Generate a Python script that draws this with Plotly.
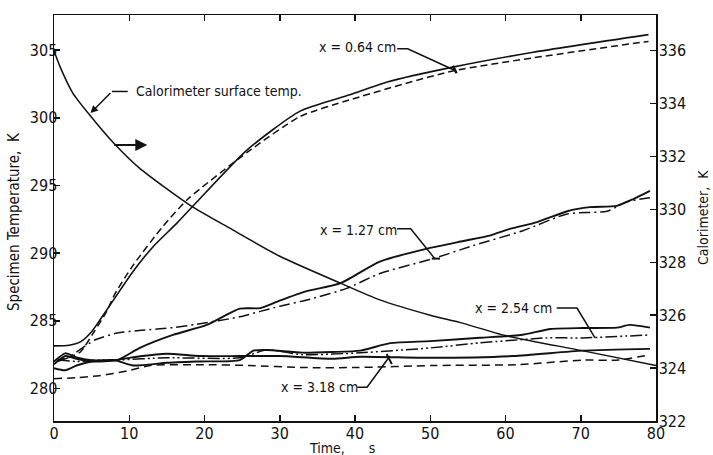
import plotly.graph_objects as go

FONT = "DejaVu Sans Condensed, Liberation Sans Narrow, Arial Narrow, sans-serif"

# ---------------- data ----------------
x_ticks = [0, 10, 20, 30, 40, 50, 60, 70, 80]
y_left_ticks = [280, 285, 290, 295, 300, 305]
y_right_ticks = [322, 324, 326, 328, 330, 332, 334, 336]

# Calorimeter surface temperature (right axis, K)
cal_t = [0, 0.8, 2.5, 4.8, 7.8, 11.4, 18.1, 23.4, 30, 38, 43.3, 50, 54, 60, 70, 80]
cal_T = [336.0, 335.4, 334.4, 333.55, 332.55, 331.55, 330.15, 329.28, 328.23,
         327.22, 326.58, 326.0, 325.72, 325.23, 324.67, 324.1]

# x = 0.64 cm
x064_t_a = [0, 2, 3.5, 5, 6.1, 8.1, 10.5, 13.2, 16.3, 19, 25.6, 32.7, 39.3, 44.3, 53, 63.7, 79]
x064_T_a = [283.15, 283.2, 283.45, 284.2, 285.06, 286.7, 288.65, 290.5, 292.2, 293.8,
            297.6, 300.5, 301.7, 302.65, 303.75, 304.85, 306.15]
x064_t_b = [0.5, 2, 3.5, 5.4, 7, 8.1, 10.5, 14.5, 17.8, 25.8, 32.7, 39.3, 53, 79]
x064_T_b = [282.1, 282.3, 282.7, 284.25, 285.7, 287.0, 289.1, 292.0, 294.0, 297.5,
            300.1, 301.33, 303.46, 305.65]

# x = 1.27 cm
x127_t_a = [0, 1.5, 3, 5, 8.4, 11.4, 15.8, 20.3, 24.7, 27.4, 30, 33.6, 38, 43.3, 49.6,
            54.4, 57.9, 60.6, 64.2, 68.2, 71.2, 74.8, 77, 79.2]
x127_T_a = [281.8, 282.4, 282.2, 282.0, 282.1, 283.0, 283.96, 284.7, 285.9, 285.94, 286.5,
            287.2, 287.77, 289.38, 290.34, 290.9, 291.3, 291.8, 292.3, 293.1, 293.4,
            293.5, 294.0, 294.6]
x127_t_b = [0.5, 2, 3.5, 5.5, 8.4, 11.6, 15.8, 19, 24.7, 27.4, 30, 34, 38.9, 43.3, 50.4,
            55.7, 62.3, 68.2, 73.5, 76.1, 79.2]
x127_T_b = [282.0, 282.3, 282.9, 283.6, 284.1, 284.3, 284.5, 284.75, 285.3, 285.7, 286.08,
            286.6, 287.4, 288.5, 289.6, 290.56, 291.66, 292.9, 293.1, 293.8, 294.1]

# x = 2.54 cm
x254_t_a = [0, 1.5, 3, 5, 8, 10.5, 15, 19.4, 24.7, 26.5, 28.3, 33, 37, 40.7, 44.7, 50,
            56.6, 62, 66, 70.3, 74.8, 76.5, 79.2]
x254_T_a = [281.5, 281.35, 281.7, 282.0, 282.1, 281.7, 281.9, 282.0, 282.1, 282.8, 282.85,
            282.65, 282.7, 282.8, 283.35, 283.5, 283.75, 283.95, 284.4, 284.47, 284.5,
            284.7, 284.5]
x254_t_b = [0.5, 3, 6, 8, 15, 24.7, 28.3, 33, 40.7, 50, 56.6, 65.5, 70.3, 79.2]
x254_T_b = [282.1, 282.0, 282.1, 282.1, 282.27, 282.27, 282.86, 282.5, 282.64, 283.0,
            283.37, 283.74, 283.74, 283.96]

# x = 3.18 cm
x318_t_a = [0, 1.5, 3, 5, 8, 11, 15, 19.4, 24.7, 30, 37, 40.7, 50, 61, 70.3, 79.2]
x318_T_a = [282.0, 282.6, 282.3, 282.1, 282.1, 282.35, 282.57, 282.4, 282.4, 282.4, 282.2,
            282.35, 282.27, 282.4, 282.8, 282.93]
x318_t_b = [0, 3, 6, 9.7, 12.8, 19.4, 26, 33, 40, 50.4, 61.5, 70.3, 75, 79.2]
x318_T_b = [280.73, 280.8, 280.95, 281.3, 281.7, 281.76, 281.7, 281.55, 281.55, 281.7,
            281.76, 282.1, 282.1, 282.5]

INK = "#111111"

fig = go.Figure()


def add(t, T, dash, width, yaxis="y"):
    fig.add_trace(go.Scatter(
        x=t, y=T, mode="lines", yaxis=yaxis, showlegend=False, hoverinfo="skip",
        line=dict(color=INK, width=width, dash=dash, shape="spline", smoothing=0.6)))


add(cal_t, cal_T, "solid", 1.5, "y2")
add(x064_t_a, x064_T_a, "solid", 1.6)
add(x064_t_b, x064_T_b, "7px,4px", 1.5)
add(x127_t_a, x127_T_a, "solid", 1.9)
add(x127_t_b, x127_T_b, "11px,4px,2px,4px", 1.5)
add(x254_t_a, x254_T_a, "solid", 1.9)
add(x254_t_b, x254_T_b, "12px,3px,2px,3px,2px,3px", 1.5)
add(x318_t_a, x318_T_a, "solid", 1.9)
add(x318_t_b, x318_T_b, "8px,5px", 1.5)

# ---------------- annotations / leader lines ----------------
tf = dict(family=FONT, size=14, color=INK)
shapes = []


def path(points, w=1.5):
    d = "M " + " L ".join(f"{a},{b}" for a, b in points)
    shapes.append(dict(type="path", path=d, xref="x", yref="y",
                       line=dict(color=INK, width=w)))


annotations = [
    dict(x=10.6, y=301.95, xref="x", yref="y", text="Calorimeter surface temp.",
         showarrow=False, xanchor="left", yanchor="middle", font=tf),
    dict(x=4.85, y=300.35, ax=7.7, ay=301.95, xref="x", yref="y", axref="x", ayref="y",
         showarrow=True, arrowhead=2, arrowsize=1, arrowwidth=1.5, arrowcolor=INK, text=""),
    dict(x=12.4, y=298.0, ax=7.8, ay=298.0, xref="x", yref="y", axref="x", ayref="y",
         showarrow=True, arrowhead=2, arrowsize=1.2, arrowwidth=2, arrowcolor=INK, text=""),
    dict(x=40.3, y=305.2, xref="x", yref="y", text="x = 0.64 cm", showarrow=False,
         xanchor="center", yanchor="middle", font=tf),
    dict(x=40.5, y=291.75, xref="x", yref="y", text="x = 1.27 cm", showarrow=False,
         xanchor="center", yanchor="middle", font=tf),
    dict(x=61.0, y=285.95, xref="x", yref="y", text="x = 2.54 cm", showarrow=False,
         xanchor="center", yanchor="middle", font=tf),
    dict(x=35.3, y=280.1, xref="x", yref="y", text="x = 3.18 cm", showarrow=False,
         xanchor="center", yanchor="middle", font=tf),
    # axis titles
    dict(x=0.5, y=-0.066, xref="paper", yref="paper", text="Time,      s", showarrow=False,
         xanchor="center", yanchor="middle", xshift=-13, font=dict(family=FONT, size=14, color=INK)),
    dict(x=0, y=0.5, xref="paper", yref="paper", text="Specimen Temperature,  K",
         showarrow=False, textangle=-90, xanchor="center", yanchor="middle", xshift=-40,
         yshift=-4, font=dict(family=FONT, size=15, color=INK)),
    dict(x=1, y=0.5, xref="paper", yref="paper", text="Calorimeter,  K",
         showarrow=False, textangle=-90, xanchor="center", yanchor="middle", xshift=47,
         yshift=0, font=dict(family=FONT, size=14, color=INK)),
]

path([(7.7, 301.95), (9.8, 301.95)])
path([(45.6, 305.1), (47.0, 305.1), (53.3, 303.5)])
path([(53.0, 303.85), (53.5, 303.3)], w=2.5)
path([(45.6, 291.8), (47.4, 291.8), (50.6, 289.6)])
path([(50.2, 289.6), (51.3, 289.6)], w=2)
path([(66.8, 285.95), (69.5, 285.95), (71.9, 283.75)])
path([(40.3, 280.1), (41.6, 280.1), (44.65, 282.4)])
path([(44.2, 282.55), (44.9, 281.8)], w=2)

axis_common = dict(showgrid=False, zeroline=False, showline=True, linecolor=INK,
                   linewidth=1.5, ticks="inside", ticklen=6, tickwidth=1.5, tickcolor=INK,
                   tickfont=dict(family=FONT, size=16, color=INK))

fig.update_layout(
    width=713, height=455,
    margin=dict(l=54, r=57, t=15, b=31),
    paper_bgcolor="white", plot_bgcolor="white",
    xaxis=dict(range=[0, 80], tickvals=x_ticks, mirror="ticks", ticklabelstandoff=-3,
               **axis_common),
    yaxis=dict(range=[277.6, 307.6], tickvals=y_left_ticks, ticklabelstandoff=-8,
               **axis_common),
    yaxis2=dict(range=[322, 337.35], tickvals=y_right_ticks, overlaying="y", side="right",
                ticklabelstandoff=-2, **axis_common),
    annotations=annotations,
    shapes=shapes,
    showlegend=False,
)

fig.write_html("out.html",
               config={"displayModeBar": False, "staticPlot": True},
               post_script="document.body.style.margin='0';document.body.style.padding='0';"
                           "document.documentElement.style.overflow='hidden';")
